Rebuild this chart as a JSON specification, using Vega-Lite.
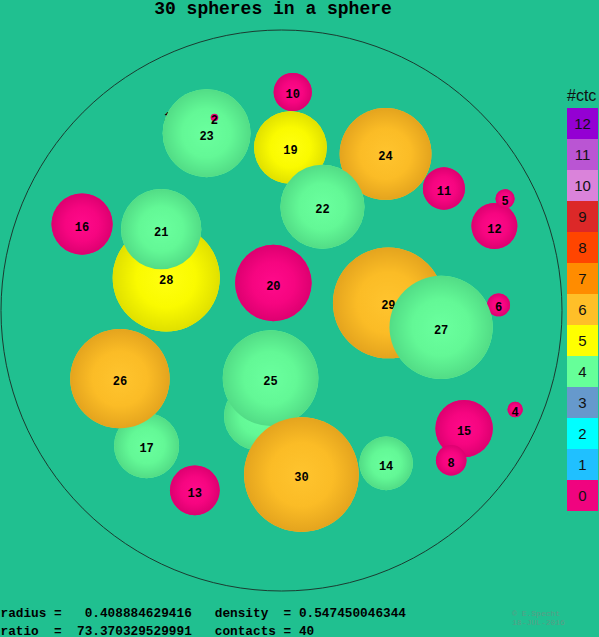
{
  "$schema": "https://vega.github.io/schema/vega-lite/v6.json",
  "width": 561,
  "height": 561,
  "autosize": {"type": "none"},
  "padding": {"left": 1, "top": 30, "right": 37, "bottom": 46},
  "background": "#20c090",
  "title": {
    "text": "30 spheres in a sphere",
    "font": "Liberation Mono",
    "fontSize": 18,
    "fontWeight": "bold",
    "color": "#000000",
    "anchor": "middle",
    "frame": "group",
    "dx": -8.5,
    "dy": 21,
    "baseline": "alphabetic",
    "offset": 17
  },
  "config": {"view": {"stroke": null}},
  "data": {
    "values": [
      {"id": 1, "x": -0.405, "y": 0.697, "r": 0.0068, "ctc": 0, "g": 0},
      {"id": 2, "x": -0.239, "y": 0.688, "r": 0.0136, "ctc": 0, "g": 2},
      {"id": 3, "x": 0.351, "y": -0.034, "r": 0.0204, "ctc": 4, "g": 0},
      {"id": 4, "x": 0.833, "y": -0.353, "r": 0.0273, "ctc": 0, "g": 1},
      {"id": 5, "x": 0.797, "y": 0.398, "r": 0.0341, "ctc": 0, "g": 2},
      {"id": 6, "x": 0.774, "y": 0.020, "r": 0.0409, "ctc": 0, "g": 1},
      {"id": 7, "x": -0.434, "y": 0.073, "r": 0.0477, "ctc": 5, "g": 0},
      {"id": 8, "x": 0.605, "y": -0.534, "r": 0.0545, "ctc": 0, "g": 2},
      {"id": 9, "x": 0.066, "y": -0.480, "r": 0.0613, "ctc": 5, "g": 0},
      {"id": 10, "x": 0.040, "y": 0.779, "r": 0.0681, "ctc": 0, "g": 1},
      {"id": 11, "x": 0.579, "y": 0.435, "r": 0.0750, "ctc": 0, "g": 1},
      {"id": 12, "x": 0.759, "y": 0.301, "r": 0.0818, "ctc": 0, "g": 1},
      {"id": 13, "x": -0.309, "y": -0.641, "r": 0.0886, "ctc": 0, "g": 1},
      {"id": 14, "x": 0.373, "y": -0.545, "r": 0.0954, "ctc": 4, "g": 1},
      {"id": 15, "x": 0.651, "y": -0.421, "r": 0.1022, "ctc": 0, "g": 1},
      {"id": 16, "x": -0.711, "y": 0.308, "r": 0.1090, "ctc": 0, "g": 1},
      {"id": 17, "x": -0.481, "y": -0.482, "r": 0.1159, "ctc": 4, "g": 1},
      {"id": 18, "x": -0.082, "y": -0.376, "r": 0.1227, "ctc": 4, "g": 0},
      {"id": 19, "x": 0.032, "y": 0.581, "r": 0.1295, "ctc": 5, "g": 1},
      {"id": 20, "x": -0.029, "y": 0.098, "r": 0.1363, "ctc": 0, "g": 1},
      {"id": 21, "x": -0.429, "y": 0.290, "r": 0.1431, "ctc": 4, "g": 2},
      {"id": 22, "x": 0.146, "y": 0.370, "r": 0.1499, "ctc": 4, "g": 2},
      {"id": 23, "x": -0.267, "y": 0.632, "r": 0.1567, "ctc": 4, "g": 1},
      {"id": 24, "x": 0.371, "y": 0.558, "r": 0.1636, "ctc": 6, "g": 1},
      {"id": 25, "x": -0.039, "y": -0.241, "r": 0.1704, "ctc": 4, "g": 1},
      {"id": 26, "x": -0.576, "y": -0.243, "r": 0.1772, "ctc": 6, "g": 2},
      {"id": 27, "x": 0.569, "y": -0.060, "r": 0.1840, "ctc": 4, "g": 2},
      {"id": 28, "x": -0.411, "y": 0.116, "r": 0.1908, "ctc": 5, "g": 1},
      {"id": 29, "x": 0.381, "y": 0.027, "r": 0.1976, "ctc": 6, "g": 1},
      {"id": 30, "x": 0.071, "y": -0.585, "r": 0.2044, "ctc": 6, "g": 2}
    ]
  },
  "encoding": {
    "x": {
      "field": "x",
      "type": "quantitative",
      "scale": {"domain": [-1, 1], "nice": false, "zero": false},
      "axis": {
        "domain": false,
        "ticks": false,
        "labels": false,
        "grid": false,
        "minExtent": 0,
        "title": [
          "radius\u00a0=\u00a0\u00a0\u00a00.408884629416\u00a0\u00a0\u00a0density\u00a0\u00a0=\u00a00.547450046344",
          "ratio\u00a0\u00a0=\u00a0\u00a073.370329529991\u00a0\u00a0\u00a0contacts\u00a0=\u00a040"
        ],
        "titleFont": "Liberation Mono",
        "titleFontSize": 12.75,
        "titleFontWeight": "bold",
        "titleColor": "#000000",
        "titleAnchor": "start",
        "titleAlign": "left",
        "titleBaseline": "top",
        "titleLineHeight": 18,
        "titlePadding": 15,
        "titleX": -1,
        "titleLimit": 0
      }
    },
    "y": {
      "field": "y",
      "type": "quantitative",
      "scale": {"domain": [-1, 1], "nice": false, "zero": false},
      "axis": null
    }
  },
  "layer": [
    {
      "mark": {"type": "point", "shape": "circle", "filled": true, "opacity": 1, "strokeWidth": 0},
      "encoding": {
        "size": {"field": "r", "type": "quantitative", "scale": {"type": "pow", "exponent": 2, "domain": [0, 1], "range": [0, 314721]}, "legend": null},
        "color": {
          "field": "ctc",
          "type": "ordinal",
          "scale": {
            "domain": [12, 11, 10, 9, 8, 7, 6, 5, 4, 3, 2, 1, 0],
            "range": ["#9400d3", "#ba55d3", "#da83da", "#dc2828", "#ff4500", "#ff8c00", "#ffbf28", "#ffff00", "#66ff99", "#6699cc", "#00ffff", "#20c0ff", "#f0047f"]
          },
          "legend": {
            "orient": "none",
            "legendX": 566,
            "legendY": 58,
            "title": "#ctc",
            "titleFont": "Liberation Sans",
            "titleFontSize": 16,
            "titleFontWeight": "normal",
            "titleColor": "#111111",
            "titlePadding": 4,
            "symbolType": "square",
            "symbolSize": 961,
            "symbolStrokeWidth": 0,
            "symbolOffset": 0,
            "rowPadding": -2,
            "padding": 0,
            "labelOffset": -15.5,
            "labelAlign": "center",
            "labelBaseline": "middle",
            "labelFont": "Liberation Sans",
            "labelFontSize": 15,
            "labelColor": "#111111",
            "encode": {"symbols": {"update": {"strokeWidth": {"value": 0}, "opacity": {"value": 1}}}}
          }
        }
      }
    },
    {
      "transform": [{"filter": "datum.g === 0"}],
      "mark": {"type": "point", "shape": "circle", "filled": true, "opacity": 1, "strokeWidth": 0},
      "encoding": {
        "size": {"field": "r", "type": "quantitative", "scale": {"type": "pow", "exponent": 2, "domain": [0, 1], "range": [0, 314721]}, "legend": null},
        "fill": {
          "condition": [
            {"test": "datum.ctc === 0", "value": {"gradient": "radial", "x1": 0.5, "y1": 0.5, "r1": 0, "x2": 0.5, "y2": 0.5, "r2": 0.5, "stops": [{"offset": 0, "color": "#ff0a8a"}, {"offset": 0.55, "color": "#f60580"}, {"offset": 1, "color": "#dd0070"}]}},
            {"test": "datum.ctc === 5", "value": {"gradient": "radial", "x1": 0.5, "y1": 0.5, "r1": 0, "x2": 0.5, "y2": 0.5, "r2": 0.5, "stops": [{"offset": 0, "color": "#ffff10"}, {"offset": 0.55, "color": "#fafa00"}, {"offset": 1, "color": "#e0e000"}]}},
            {"test": "datum.ctc === 6", "value": {"gradient": "radial", "x1": 0.5, "y1": 0.5, "r1": 0, "x2": 0.5, "y2": 0.5, "r2": 0.5, "stops": [{"offset": 0, "color": "#ffc42e"}, {"offset": 0.55, "color": "#fbbc26"}, {"offset": 1, "color": "#e4a41e"}]}}
          ],
          "value": {"gradient": "radial", "x1": 0.5, "y1": 0.5, "r1": 0, "x2": 0.5, "y2": 0.5, "r2": 0.5, "stops": [{"offset": 0, "color": "#6aff9e"}, {"offset": 0.55, "color": "#63f896"}, {"offset": 1, "color": "#52dc86"}]}
        }
      }
    },
    {
      "transform": [{"filter": "datum.g === 0"}],
      "mark": {"type": "text", "font": "Liberation Mono", "fontSize": 12, "fontWeight": "bold", "baseline": "middle", "dy": 2.5, "color": "#000000"},
      "encoding": {"text": {"field": "id", "type": "nominal"}}
    },
    {
      "transform": [{"filter": "datum.g === 1"}],
      "mark": {"type": "point", "shape": "circle", "filled": true, "opacity": 1, "strokeWidth": 0},
      "encoding": {
        "size": {"field": "r", "type": "quantitative", "scale": {"type": "pow", "exponent": 2, "domain": [0, 1], "range": [0, 314721]}, "legend": null},
        "fill": {
          "condition": [
            {"test": "datum.ctc === 0", "value": {"gradient": "radial", "x1": 0.5, "y1": 0.5, "r1": 0, "x2": 0.5, "y2": 0.5, "r2": 0.5, "stops": [{"offset": 0, "color": "#ff0a8a"}, {"offset": 0.55, "color": "#f60580"}, {"offset": 1, "color": "#dd0070"}]}},
            {"test": "datum.ctc === 5", "value": {"gradient": "radial", "x1": 0.5, "y1": 0.5, "r1": 0, "x2": 0.5, "y2": 0.5, "r2": 0.5, "stops": [{"offset": 0, "color": "#ffff10"}, {"offset": 0.55, "color": "#fafa00"}, {"offset": 1, "color": "#e0e000"}]}},
            {"test": "datum.ctc === 6", "value": {"gradient": "radial", "x1": 0.5, "y1": 0.5, "r1": 0, "x2": 0.5, "y2": 0.5, "r2": 0.5, "stops": [{"offset": 0, "color": "#ffc42e"}, {"offset": 0.55, "color": "#fbbc26"}, {"offset": 1, "color": "#e4a41e"}]}}
          ],
          "value": {"gradient": "radial", "x1": 0.5, "y1": 0.5, "r1": 0, "x2": 0.5, "y2": 0.5, "r2": 0.5, "stops": [{"offset": 0, "color": "#6aff9e"}, {"offset": 0.55, "color": "#63f896"}, {"offset": 1, "color": "#52dc86"}]}
        }
      }
    },
    {
      "transform": [{"filter": "datum.g === 1"}],
      "mark": {"type": "text", "font": "Liberation Mono", "fontSize": 12, "fontWeight": "bold", "baseline": "middle", "dy": 2.5, "color": "#000000"},
      "encoding": {"text": {"field": "id", "type": "nominal"}}
    },
    {
      "transform": [{"filter": "datum.g === 2"}],
      "mark": {"type": "point", "shape": "circle", "filled": true, "opacity": 1, "strokeWidth": 0},
      "encoding": {
        "size": {"field": "r", "type": "quantitative", "scale": {"type": "pow", "exponent": 2, "domain": [0, 1], "range": [0, 314721]}, "legend": null},
        "fill": {
          "condition": [
            {"test": "datum.ctc === 0", "value": {"gradient": "radial", "x1": 0.5, "y1": 0.5, "r1": 0, "x2": 0.5, "y2": 0.5, "r2": 0.5, "stops": [{"offset": 0, "color": "#ff0a8a"}, {"offset": 0.55, "color": "#f60580"}, {"offset": 1, "color": "#dd0070"}]}},
            {"test": "datum.ctc === 5", "value": {"gradient": "radial", "x1": 0.5, "y1": 0.5, "r1": 0, "x2": 0.5, "y2": 0.5, "r2": 0.5, "stops": [{"offset": 0, "color": "#ffff10"}, {"offset": 0.55, "color": "#fafa00"}, {"offset": 1, "color": "#e0e000"}]}},
            {"test": "datum.ctc === 6", "value": {"gradient": "radial", "x1": 0.5, "y1": 0.5, "r1": 0, "x2": 0.5, "y2": 0.5, "r2": 0.5, "stops": [{"offset": 0, "color": "#ffc42e"}, {"offset": 0.55, "color": "#fbbc26"}, {"offset": 1, "color": "#e4a41e"}]}}
          ],
          "value": {"gradient": "radial", "x1": 0.5, "y1": 0.5, "r1": 0, "x2": 0.5, "y2": 0.5, "r2": 0.5, "stops": [{"offset": 0, "color": "#6aff9e"}, {"offset": 0.55, "color": "#63f896"}, {"offset": 1, "color": "#52dc86"}]}
        }
      }
    },
    {
      "transform": [{"filter": "datum.g === 2"}],
      "mark": {"type": "text", "font": "Liberation Mono", "fontSize": 12, "fontWeight": "bold", "baseline": "middle", "dy": 2.5, "color": "#000000"},
      "encoding": {"text": {"field": "id", "type": "nominal"}}
    },
    {
      "data": {"values": [{"x": 0, "y": 0, "r": 1}]},
      "mark": {"type": "point", "shape": "circle", "filled": false, "opacity": 1, "stroke": "#1b3b30", "strokeWidth": 1},
      "encoding": {
        "size": {"field": "r", "type": "quantitative", "scale": {"type": "pow", "exponent": 2, "domain": [0, 1], "range": [0, 314721]}, "legend": null}
      }
    },
    {
      "data": {"values": [{"note": "\u00a9 E.Specht", "nx": 0.822, "ny": -1.082}, {"note": "18-JUL-2016", "nx": 0.822, "ny": -1.114}]},
      "mark": {"type": "text", "font": "Liberation Mono", "fontSize": 8, "align": "left", "baseline": "middle", "color": "#5b9c85"},
      "encoding": {
        "x": {"field": "nx", "type": "quantitative"},
        "y": {"field": "ny", "type": "quantitative"},
        "text": {"field": "note", "type": "nominal"}
      }
    }
  ]
}
